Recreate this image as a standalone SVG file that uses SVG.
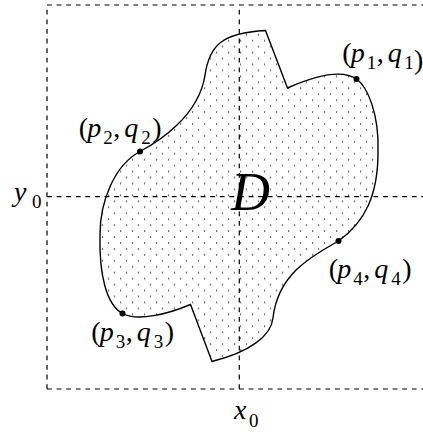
<svg xmlns="http://www.w3.org/2000/svg" width="423" height="435" viewBox="0 0 423 435">
<style>
.dash{fill:none;stroke:#000;stroke-width:1.2;stroke-dasharray:4.8 4.8}
.bound{stroke:#000;stroke-width:1.4;stroke-linejoin:miter}
.pt{fill:#000}
text{font-family:"Liberation Serif","Times New Roman",serif;font-size:28px;fill:#000}
.it{font-style:italic}
.sub{font-size:19px}
.big{font-size:54px;font-style:italic}
</style>
<defs>
<pattern id="dots" patternUnits="userSpaceOnUse" x="0" y="0" width="12" height="11.9">
<circle cx="0.5" cy="5" r="0.8" fill="#333"/>
<circle cx="6.5" cy="10.95" r="0.8" fill="#333"/>
</pattern>
</defs>
<g id="region-D">
<path class="bound" fill="url(#dots)" d="M265.5,30.5 L287.5,88 C310,78 340,68 356.5,79 C368,87 379,115 378,150 C378.5,195 365,222 338.5,241 C316,254 278,272 273,318 C271,336 250,352 212,361.5 L190.5,304.5 C168,314 137.5,321.8 122.5,313.5 C106.5,304.7 99,275 100,235 C100,200 115,165 140,151.5 C158,142 199,116 205,75 C209.4,45 222,33 265.5,30.5 Z"/>
</g>
<g id="connectors">
<path class="dash" d="M47,389 V5 H423"/>
<path class="dash" d="M47,389 H423"/>
<path class="dash" d="M47,196.7 H423"/>
<path class="dash" d="M239.3,389 V5"/>
</g>
<g id="points">
<circle class="pt" cx="356.5" cy="79" r="3"/>
<circle class="pt" cx="140" cy="151.5" r="3"/>
<circle class="pt" cx="122.5" cy="313.5" r="3"/>
<circle class="pt" cx="338.5" cy="241" r="3"/>
</g>
<g id="label-D"><text class="big" x="231" y="210">D</text></g>
<g id="label-p1"><text y="62"><tspan x="342.2">(</tspan><tspan class="it" x="350.7">p</tspan><tspan class="sub" x="366.7" y="69">1</tspan><tspan x="376.7" y="62">,</tspan><tspan class="it" x="387.7">q</tspan><tspan class="sub" x="404.2" y="69">1</tspan><tspan x="414">)</tspan></text></g>
<g id="label-p2"><text y="136.5"><tspan x="78.8">(</tspan><tspan class="it" x="87.3">p</tspan><tspan class="sub" x="103.3" y="143.5">2</tspan><tspan x="113.3" y="136.5">,</tspan><tspan class="it" x="124.3">q</tspan><tspan class="sub" x="141.3" y="143.5">2</tspan><tspan x="152.3" y="136.5">)</tspan></text></g>
<g id="label-p3"><text y="341"><tspan x="91.2">(</tspan><tspan class="it" x="99.7">p</tspan><tspan class="sub" x="115.7" y="348">3</tspan><tspan x="125.7" y="341">,</tspan><tspan class="it" x="136.7">q</tspan><tspan class="sub" x="153.7" y="348">3</tspan><tspan x="164.7" y="341">)</tspan></text></g>
<g id="label-p4"><text y="277.5"><tspan x="328.8">(</tspan><tspan class="it" x="337.3">p</tspan><tspan class="sub" x="353.3" y="284.5">4</tspan><tspan x="363.3" y="277.5">,</tspan><tspan class="it" x="374.3">q</tspan><tspan class="sub" x="391.3" y="284.5">4</tspan><tspan x="402.3" y="277.5">)</tspan></text></g>
<g id="label-x0"><text y="418.7"><tspan class="it" x="234">x</tspan><tspan class="sub" x="249" y="427">0</tspan></text></g>
<g id="label-y0"><text y="201"><tspan class="it" x="14">y</tspan><tspan class="sub" x="32" y="208">0</tspan></text></g>
</svg>
